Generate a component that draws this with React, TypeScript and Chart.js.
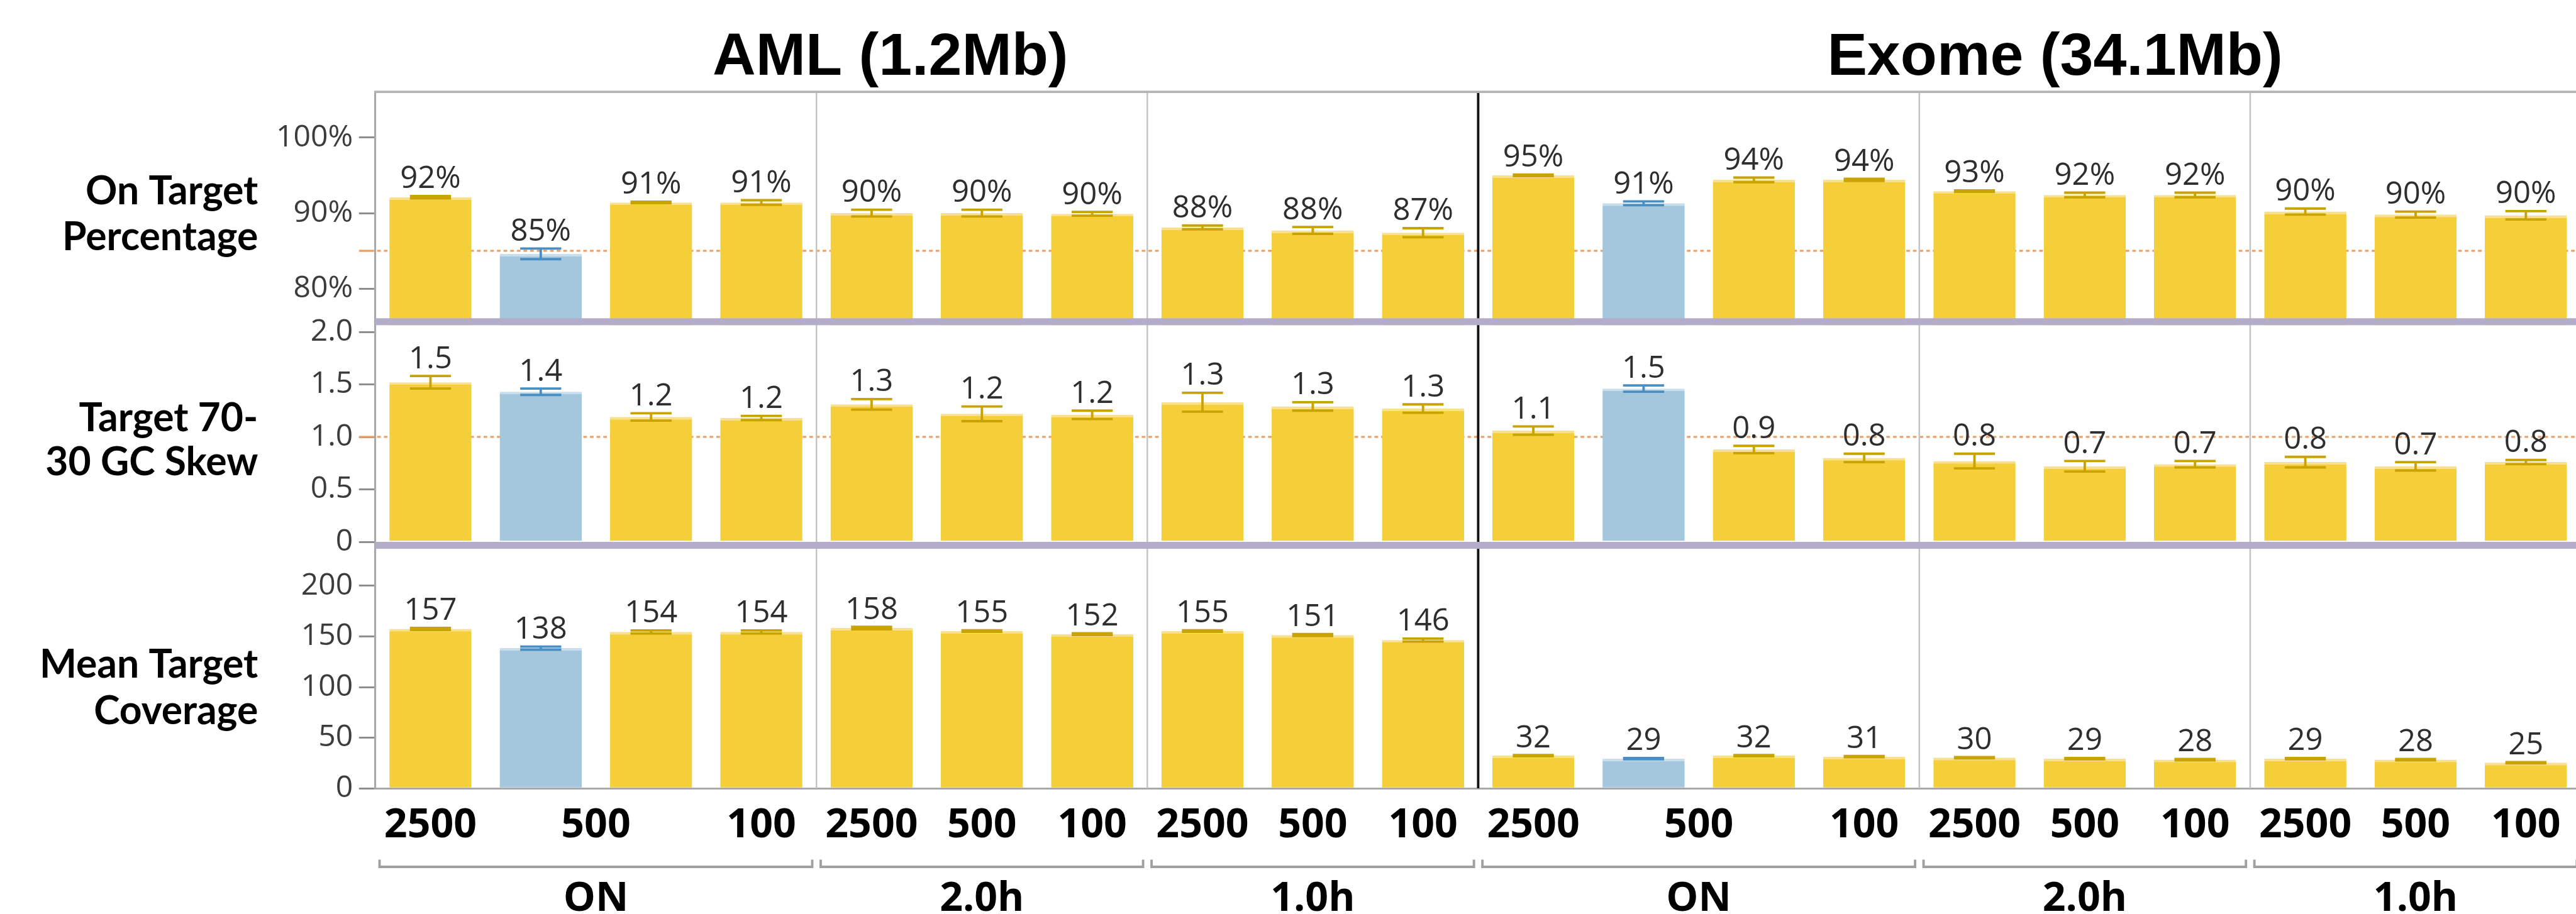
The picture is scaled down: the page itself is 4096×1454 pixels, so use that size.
import React, { useEffect, useRef } from 'react';
import { Chart, registerables } from 'chart.js';

Chart.register(...registerables);

// ---------------- data ----------------
const PANEL_TITLES = ['AML (1.2Mb)', 'Exome (34.1Mb)'];
const PANEL_TITLE_AT = [4.17, 14.73]; // category-space anchor of each panel title
const BAR_PANEL = [0, 0, 0, 0, 0, 0, 0, 0, 0, 0, 1, 1, 1, 1, 1, 1, 1, 1, 1, 1];
const BAR_GROUP = ['ON', 'ON', 'ON', 'ON', '2.0h', '2.0h', '2.0h', '1.0h', '1.0h', '1.0h',
  'ON', 'ON', 'ON', 'ON', '2.0h', '2.0h', '2.0h', '1.0h', '1.0h', '1.0h'];
const BAR_LABELS = ['2500', '500', '500', '100', '2500', '500', '100', '2500', '500', '100',
  '2500', '500', '500', '100', '2500', '500', '100', '2500', '500', '100'];
const IS_CONTROL = [false, true, false, false, false, false, false, false, false, false,
  false, true, false, false, false, false, false, false, false, false];

const ON_TARGET = [92.1, 84.6, 91.4, 91.4, 90.0, 90.0, 89.9, 88.1, 87.7, 87.4,
  95.0, 91.3, 94.4, 94.4, 92.9, 92.4, 92.4, 90.2, 89.8, 89.7];
const ON_TARGET_ERR = [0.15, 0.7, 0.1, 0.3, 0.45, 0.45, 0.25, 0.25, 0.45, 0.6,
  0.1, 0.25, 0.3, 0.15, 0.1, 0.3, 0.3, 0.4, 0.4, 0.55];
const GC_SKEW = [1.52, 1.43, 1.19, 1.18, 1.31, 1.22, 1.21, 1.33, 1.29, 1.27,
  1.06, 1.46, 0.88, 0.8, 0.77, 0.72, 0.74, 0.76, 0.72, 0.76];
const GC_SKEW_ERR = [0.06, 0.03, 0.035, 0.02, 0.05, 0.07, 0.04, 0.09, 0.04, 0.04,
  0.04, 0.03, 0.035, 0.04, 0.07, 0.05, 0.03, 0.05, 0.04, 0.02];
const COVERAGE = [157.4, 138.4, 154.4, 154.4, 158.3, 155.3, 152.3, 155.3, 151.3, 146.4,
  32.3, 29.3, 32.3, 31.3, 30.3, 29.3, 28.3, 29.3, 28.3, 25.3];
const COVERAGE_ERR = [1.0, 1.5, 1.5, 1.5, 1.2, 0.8, 0.8, 0.8, 1.0, 1.5,
  0.6, 0.6, 0.6, 0.6, 0.6, 0.6, 0.6, 0.6, 0.6, 0.6];

const ROW_TITLES = [['On Target', 'Percentage'], ['Target 70-', '30 GC Skew'], ['Mean Target', 'Coverage']];
const Y1_TICKS = [80, 90, 100];
const Y2_TICKS = [0, 0.5, 1, 1.5, 2];
const Y3_TICKS = [0, 50, 100, 150, 200];
const REF_ON_TARGET = 85;
const REF_GC_SKEW = 1.0;

// ---------------- layout / style ----------------
const S = 0.961;
const CANVAS_W = 4108;
const CANVAS_H = 1454;
const LEFT = 621 * S;
const TOP = 152 * S;
const TICK_LEN = 27 * S;
const BAND = 11.5 * S;
const YELLOW = '#f5cf3a';
const YELLOW_LIGHT = '#f9e08e';
const YELLOW_ERR = '#c9a300';
const BLUE = '#a4c7de';
const BLUE_LIGHT = '#c8deec';
const BLUE_ERR = '#4a8fc4';
const PURPLE = '#b3adca';
const ORANGE = '#f39a55';
const AXIS_GRAY = '#a8a8a8';
const ROW_TITLE_BASELINES = [[338, 414], [714, 787], [1122, 1199]];

function mergeRuns(keys: string[]) {
  const runs: { start: number; end: number }[] = [];
  let start = 0;
  for (let i = 1; i <= keys.length; i++) {
    if (i === keys.length || keys[i] !== keys[start]) {
      runs.push({ start, end: i - 1 });
      start = i;
    }
  }
  return runs;
}
const groupKeys = BAR_GROUP.map((g, i) => BAR_PANEL[i] + '|' + g);
const GROUP_RUNS = mergeRuns(groupKeys).map((r) => ({ ...r, text: BAR_GROUP[r.start] }));
const LABEL_RUNS = mergeRuns(BAR_LABELS.map((l, i) => groupKeys[i] + '|' + l)).map((r) => ({ ...r, text: BAR_LABELS[r.start] }));

const PANELS = [
  { id: 'y1', data: ON_TARGET, err: ON_TARGET_ERR, fmt: (v: number) => `${Math.round(v)}%` },
  { id: 'y2', data: GC_SKEW, err: GC_SKEW_ERR, fmt: (v: number) => v.toFixed(1) },
  { id: 'y3', data: COVERAGE, err: COVERAGE_ERR, fmt: (v: number) => `${Math.round(v)}` },
];

const overlayPlugin = {
  id: 'overlay',
  beforeDatasetsDraw(chart: any) {
    const { ctx, chartArea } = chart;
    const xs = chart.scales.x2;
    ctx.save();
    // reference lines
    ([['y1', REF_ON_TARGET], ['y2', REF_GC_SKEW]] as [string, number][]).forEach(([id, v]) => {
      const y = chart.scales[id].getPixelForValue(v);
      ctx.strokeStyle = ORANGE;
      ctx.lineWidth = 3.3 * S;
      ctx.setLineDash([]);
      ctx.beginPath();
      ctx.moveTo(chartArea.left - TICK_LEN, y);
      ctx.lineTo(chartArea.left - 2, y);
      ctx.stroke();
      ctx.setLineDash([6 * S, 5 * S]);
      ctx.beginPath();
      ctx.moveTo(chartArea.left + 3, y);
      ctx.lineTo(chartArea.right, y);
      ctx.stroke();
    });
    ctx.setLineDash([]);
    // group dividers
    for (let i = 1; i < BAR_GROUP.length; i++) {
      const panelChange = BAR_PANEL[i] !== BAR_PANEL[i - 1];
      if (!panelChange && BAR_GROUP[i] === BAR_GROUP[i - 1]) continue;
      const x = xs.getPixelForValue(i - 0.5);
      ctx.strokeStyle = panelChange ? '#111111' : '#c4c4c4';
      ctx.lineWidth = panelChange ? 4 * S : 2.6 * S;
      ctx.beginPath();
      ctx.moveTo(x, chartArea.top);
      ctx.lineTo(x, chartArea.bottom);
      ctx.stroke();
    }
    ctx.restore();
  },
  afterDatasetsDraw(chart: any) {
    const { ctx, chartArea } = chart;
    ctx.save();
    // error bars and value labels
    PANELS.forEach((p, d) => {
      const ys = chart.scales[p.id];
      const meta = chart.getDatasetMeta(d);
      meta.data.forEach((bar: any, i: number) => {
        const v = p.data[i];
        const e = p.err[i];
        const yt = ys.getPixelForValue(v + e);
        const yb = ys.getPixelForValue(v - e);
        const hw = 34 * S;
        ctx.strokeStyle = IS_CONTROL[i] ? BLUE_ERR : YELLOW_ERR;
        ctx.lineWidth = 4 * S;
        ctx.beginPath();
        ctx.moveTo(bar.x - hw, yt); ctx.lineTo(bar.x + hw, yt);
        ctx.moveTo(bar.x - hw, yb); ctx.lineTo(bar.x + hw, yb);
        ctx.moveTo(bar.x, yt); ctx.lineTo(bar.x, yb);
        ctx.stroke();
        ctx.fillStyle = '#2e2e2e';
        ctx.font = `${51 * S}px "Open Sans"`;
        ctx.textAlign = 'center';
        ctx.textBaseline = 'alphabetic';
        ctx.fillText(p.fmt(v), bar.x, yt - 13 * S);
      });
    });
    // panel bottom bands
    ['y1', 'y2'].forEach((id) => {
      const ys = chart.scales[id];
      ctx.fillStyle = PURPLE;
      ctx.fillRect(chartArea.left, ys.bottom - BAND, chartArea.right - chartArea.left, BAND);
    });
    // top border
    ctx.strokeStyle = '#b4b4b4';
    ctx.lineWidth = 4 * S;
    ctx.beginPath();
    ctx.moveTo(chartArea.left - 1.5 * S, chartArea.top);
    ctx.lineTo(chartArea.right, chartArea.top);
    ctx.stroke();
    ctx.restore();
  },
  afterDraw(chart: any) {
    const { ctx } = chart;
    const xs = chart.scales.x2;
    ctx.save();
    // panel titles
    ctx.fillStyle = '#000';
    ctx.font = `bold ${99 * S}px "Liberation Sans"`;
    ctx.textAlign = 'center';
    ctx.textBaseline = 'alphabetic';
    PANEL_TITLES.forEach((t, k) => {
      ctx.fillText(t, xs.getPixelForValue(PANEL_TITLE_AT[k]), 124 * S);
    });
    // row titles
    ctx.font = `bold ${65 * S}px Lato`;
    ctx.textAlign = 'right';
    ROW_TITLES.forEach((lines, r) => {
      lines.forEach((line, j) => ctx.fillText(line, 427 * S, ROW_TITLE_BASELINES[r][j] * S));
    });
    // group brackets
    ctx.strokeStyle = '#a0a0a0';
    ctx.lineWidth = 4 * S;
    const yb = 1435 * S;
    GROUP_RUNS.forEach((g) => {
      const l = xs.getPixelForValue(g.start - 0.5) + 7 * S;
      const r = xs.getPixelForValue(g.end + 0.5) - 7 * S;
      ctx.beginPath();
      ctx.moveTo(l, yb - 12 * S);
      ctx.lineTo(l, yb);
      ctx.lineTo(r, yb);
      ctx.lineTo(r, yb - 12 * S);
      ctx.stroke();
    });
    ctx.restore();
  },
};

function yScale(min: number, max: number, ticks: number[], weight: number, fmt: (v: number) => string) {
  return {
    type: 'linear',
    position: 'left',
    stack: 'panels',
    stackWeight: weight,
    min,
    max,
    bounds: 'data',
    beginAtZero: false,
    afterBuildTicks: (scale: any) => { scale.ticks = ticks.map((v) => ({ value: v })); },
    afterFit: (scale: any) => { scale.width = LEFT; },
    grid: { display: true, drawOnChartArea: false, drawTicks: true, tickLength: TICK_LEN, color: '#8a8a8a', lineWidth: 3 * S },
    border: { display: true, color: AXIS_GRAY, width: 3.2 * S },
    ticks: {
      callback: (v: number) => fmt(v),
      font: { family: '"Open Sans"', size: 50 * S },
      color: '#3c3c3c',
      padding: 10 * S,
      autoSkip: false,
    },
  };
}

function xLabelScale(runs: { start: number; end: number; text: string }[], weight: number, height: number, padding: number, border: boolean) {
  return {
    type: 'linear',
    position: 'bottom',
    min: -0.5,
    max: BAR_LABELS.length - 0.5,
    bounds: 'data',
    offset: false,
    beginAtZero: false,
    weight,
    afterBuildTicks: (scale: any) => { scale.ticks = runs.map((r) => ({ value: (r.start + r.end) / 2 })); },
    afterFit: (scale: any) => { scale.height = height; },
    grid: { display: false, offset: false },
    border: { display: border, color: AXIS_GRAY, width: 3.2 * S },
    ticks: {
      callback: (_v: number, i: number) => runs[i].text,
      font: { family: '"Open Sans"', size: 67 * S, weight: 'bold' },
      color: '#000',
      padding,
      autoSkip: false,
      maxRotation: 0,
      minRotation: 0,
    },
  };
}

export default function App() {
  const ref = useRef<HTMLCanvasElement>(null);
  useEffect(() => {
    document.body.style.margin = '0';
    document.body.style.overflow = 'hidden';
    const barStyle = {
      backgroundColor: IS_CONTROL.map((c) => (c ? BLUE : YELLOW)),
      borderColor: IS_CONTROL.map((c) => (c ? BLUE_LIGHT : YELLOW_LIGHT)),
      borderWidth: { top: 4 * S, left: 0, right: 0, bottom: 0 },
      borderSkipped: 'bottom',
      grouped: false,
      barPercentage: 0.745,
      categoryPercentage: 1,
      xAxisID: 'x',
    };
    const chart = new Chart(ref.current as HTMLCanvasElement, {
      type: 'bar',
      data: {
        labels: BAR_LABELS,
        datasets: [
          { label: 'On Target Percentage', data: ON_TARGET, yAxisID: 'y1', ...barStyle },
          { label: 'Target 70-30 GC Skew', data: GC_SKEW, yAxisID: 'y2', ...barStyle },
          { label: 'Mean Target Coverage', data: COVERAGE, yAxisID: 'y3', ...barStyle },
        ] as any,
      },
      options: {
        responsive: false,
        animation: false,
        events: [],
        layout: { padding: { top: TOP, right: 4, bottom: 0, left: 0 } },
        plugins: { legend: { display: false }, tooltip: { enabled: false }, title: { display: false } },
        scales: {
          x: { type: 'category', display: false, offset: true },
          x2: xLabelScale(LABEL_RUNS, 1, 91.3, 12.5, true),
          x3: xLabelScale(GROUP_RUNS, 2, 108.6, 38.5, false),
          y3: yScale(0, 236.5, Y3_TICKS, 396.5, (v) => `${v}`),
          y2: yScale(-0.066, 2.064, Y2_TICKS, 370.2, (v) => (v === 0 ? '0' : v.toFixed(1))),
          y1: yScale(75.15, 106.06, Y1_TICKS, 386.3, (v) => `${v}%`),
        } as any,
      },
      plugins: [overlayPlugin],
    });
    return () => chart.destroy();
  }, []);
  return (
    <div style={{ width: 4096, height: CANVAS_H, overflow: 'hidden', background: '#ffffff' }}>
      <canvas ref={ref} width={CANVAS_W} height={CANVAS_H} style={{ display: 'block' }} />
    </div>
  );
}
